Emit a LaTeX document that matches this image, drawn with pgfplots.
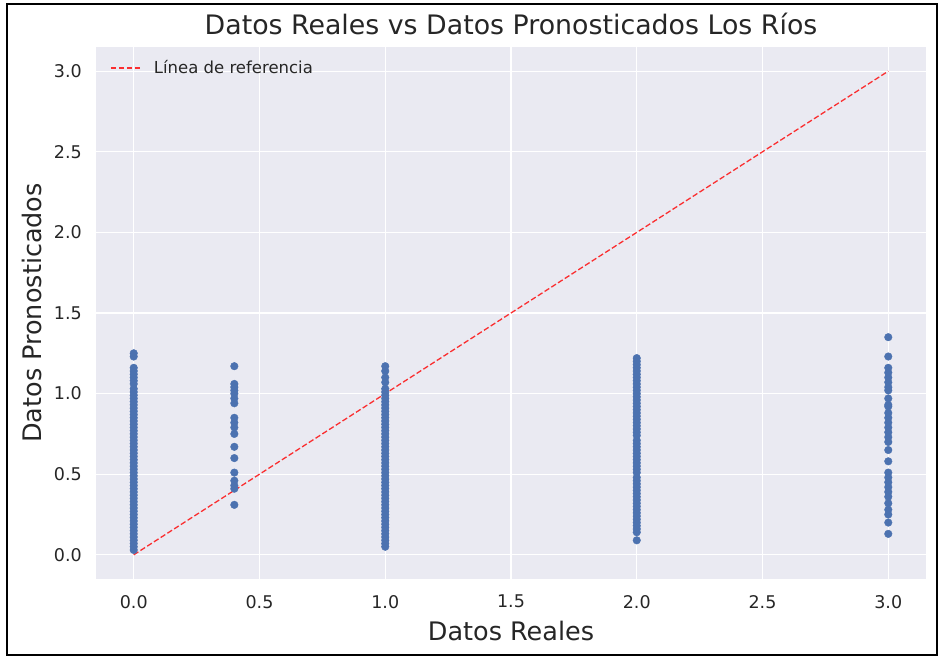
\documentclass[border=0pt]{standalone}
\usepackage{fontspec}
\setmainfont{DejaVu Sans}
\usepackage{pgfplots}
\pgfplotsset{compat=1.18}
\definecolor{bgcol}{HTML}{EAEAF2}
\definecolor{txt}{HTML}{262626}
\definecolor{sbblue}{HTML}{4C72B0}
\begin{document}
\begin{tikzpicture}
\begin{axis}[
    name=ax,
    scale only axis,
    width=830pt, height=532pt,
    xmin=-0.15, xmax=3.15,
    ymin=-0.15, ymax=3.15,
    xtick={0,0.5,1,1.5,2,2.5,3},
    ytick={0,0.5,1,1.5,2,2.5,3},
    axis background/.style={fill=bgcol},
    axis line style={draw=none},
    grid=major,
    major grid style={white, line width=1.1pt},
    tick style={draw=none},
    major tick length=0pt,
    /pgf/number format/assume math mode=true,
    /pgf/number format/.cd, fixed, fixed zerofill, precision=1, /pgfplots/.cd,
    tick label style={font=\fontsize{17.5}{20}\selectfont, text=txt, inner sep=0pt},
    xticklabel style={anchor=north, yshift=-16pt},
    yticklabel style={anchor=east, xshift=-14pt},
    title={Datos Reales vs Datos Pronosticados Los Ríos},
    title style={font=\fontsize{26.8}{30}\selectfont, text=txt, at={([yshift=17pt]axis description cs:0.5,1)}, anchor=center},
    xlabel={Datos Reales},
    ylabel={Datos Pronosticados},
    xlabel style={font=\fontsize{25.5}{30}\selectfont, text=txt, at={([yshift=-52pt]axis description cs:0.5,0)}, anchor=center},
    ylabel style={font=\fontsize{25.5}{30}\selectfont, text=txt, at={([xshift=-64pt]axis description cs:0,0.5)}, anchor=center, rotate=0},
    legend style={at={(axis description cs:0.017,0.9605)}, anchor=west, draw=none, fill=none,
        font=\fontsize{16.5}{19}\selectfont, text=txt, inner sep=0pt},
    legend cell align=left,
    legend image code/.code={
        \draw[red, opacity=0.8, line width=1.3pt, dash pattern=on 5.5pt off 2.5pt] (0pt,0pt) -- (30pt,0pt);
        \path[draw=none] (0pt,0pt) -- (41pt,0pt);},
]
\addplot[only marks, mark=*, mark size=3.8pt, color=sbblue, forget plot] coordinates {
(0,0.03) (0,0.05) (0,0.07) (0,0.09) (0,0.11) (0,0.13) (0,0.15) (0,0.17) (0,0.19) (0,0.21)
(0,0.23) (0,0.25) (0,0.27) (0,0.29) (0,0.31) (0,0.33) (0,0.35) (0,0.37) (0,0.39) (0,0.41)
(0,0.43) (0,0.45) (0,0.47) (0,0.49) (0,0.51) (0,0.53) (0,0.55) (0,0.57) (0,0.59) (0,0.61)
(0,0.63) (0,0.65) (0,0.67) (0,0.69) (0,0.71) (0,0.73) (0,0.75) (0,0.77) (0,0.79) (0,0.81)
(0,0.83) (0,0.85) (0,0.87) (0,0.89) (0,0.91) (0,0.93) (0,0.95) (0,0.97) (0,0.99) (0,1.01)
(0,1.03) (0,1.06) (0,1.08) (0,1.10) (0,1.12) (0,1.14) (0,1.16) (0,1.23) (0,1.25)
(0.4,1.17) (0.4,1.06) (0.4,1.04) (0.4,1.02) (0.4,1.00) (0.4,0.97) (0.4,0.94) (0.4,0.85)
(0.4,0.82) (0.4,0.79) (0.4,0.75) (0.4,0.67) (0.4,0.60) (0.4,0.51) (0.4,0.46) (0.4,0.43)
(0.4,0.41) (0.4,0.31)
(1,0.05) (1,0.07) (1,0.09) (1,0.11) (1,0.13) (1,0.15) (1,0.17) (1,0.19) (1,0.21) (1,0.23)
(1,0.25) (1,0.27) (1,0.29) (1,0.31) (1,0.33) (1,0.35) (1,0.37) (1,0.39) (1,0.41) (1,0.43)
(1,0.45) (1,0.47) (1,0.49) (1,0.51) (1,0.53) (1,0.55) (1,0.57) (1,0.59) (1,0.61) (1,0.63)
(1,0.65) (1,0.67) (1,0.69) (1,0.71) (1,0.73) (1,0.75) (1,0.77) (1,0.79) (1,0.81) (1,0.83)
(1,0.85) (1,0.87) (1,0.89) (1,0.91) (1,0.93) (1,0.95) (1,0.97) (1,0.99) (1,1.01) (1,1.03)
(1,1.07) (1,1.10) (1,1.14) (1,1.17)
(2,0.09) (2,0.14) (2,0.16) (2,0.18) (2,0.20) (2,0.22) (2,0.24) (2,0.26) (2,0.28) (2,0.30)
(2,0.32) (2,0.34) (2,0.36) (2,0.38) (2,0.40) (2,0.42) (2,0.44) (2,0.46) (2,0.48) (2,0.51)
(2,0.53) (2,0.55) (2,0.57) (2,0.59) (2,0.61) (2,0.63) (2,0.65) (2,0.67) (2,0.69) (2,0.71)
(2,0.74) (2,0.76) (2,0.78) (2,0.80) (2,0.82) (2,0.84) (2,0.86) (2,0.88) (2,0.90) (2,0.92)
(2,0.94) (2,0.96) (2,0.98) (2,1.00) (2,1.02) (2,1.04) (2,1.06) (2,1.08) (2,1.10) (2,1.12)
(2,1.14) (2,1.16) (2,1.18) (2,1.20) (2,1.22)
(3,1.35) (3,1.23) (3,1.16) (3,1.13) (3,1.10) (3,1.07) (3,1.04) (3,1.02) (3,0.97) (3,0.93)
(3,0.92) (3,0.88) (3,0.85) (3,0.82) (3,0.79) (3,0.76) (3,0.73) (3,0.70) (3,0.65) (3,0.58)
(3,0.51) (3,0.48) (3,0.45) (3,0.42) (3,0.39) (3,0.36) (3,0.32) (3,0.28) (3,0.25) (3,0.20)
(3,0.13)
};
\addplot[red, opacity=0.8, line width=1.3pt, dash pattern=on 5.5pt off 2.5pt] coordinates {(0,0) (3,3)};
\addlegendentry{Línea de referencia}
\end{axis}
\draw[line width=2pt, black] ([shift={(-89pt,-76pt)}]ax.south west) rectangle ([shift={(11pt,43pt)}]ax.north east);
\path ([shift={(-96pt,-78pt)}]ax.south west) rectangle ([shift={(15pt,47pt)}]ax.north east);
\end{tikzpicture}
\end{document}
